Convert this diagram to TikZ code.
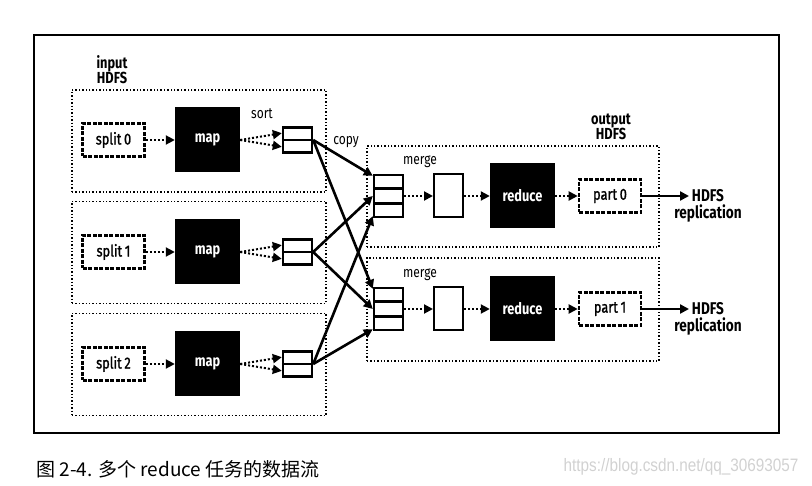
\documentclass[tikz,border=0pt]{standalone}
\usepackage{fontspec}
\setmainfont{Fira Sans}[FakeStretch=0.8]
\newfontfamily\medfont{Fira Sans}[FakeStretch=0.8, FakeBold=1.2]
\newfontfamily\cjk{Noto Sans CJK SC}
\newfontfamily\wmfont{Liberation Sans}[FakeStretch=0.85]
\usetikzlibrary{arrows.meta,calc}
\begin{document}
\begin{tikzpicture}[x=1pt,y=-1pt,
  txt/.style={font=\fontsize{15}{16}\selectfont},
  bold/.style={font=\fontsize{16}{15}\selectfont\bfseries, align=center},
  grp/.style={draw, dotted, line width=1.4pt, rectangle, inner sep=0pt},
  filebox/.style={draw, dash pattern=on 4pt off 1.5pt, line width=2.6pt, fill=white, minimum width=62pt, minimum height=33pt, inner sep=0pt, font=\fontsize{16}{16}\selectfont\medfont},
  task/.style={fill=black, text=white, minimum width=65pt, minimum height=65pt, inner sep=0pt, font=\fontsize{16}{16}\selectfont\bfseries},
  buf/.style={draw, line width=2.4pt, fill=white, minimum width=29pt, inner sep=0pt},
  tip/.style={-{Triangle[length=9pt,width=9pt]}},
  flow/.style={tip, dotted, line width=2pt},
  copyarr/.style={tip, line width=2.6pt},
]
\useasboundingbox (0,0) rectangle (812,486);
\node[draw, line width=1.3pt, minimum width=745pt, minimum height=398pt, inner sep=0pt] (frame) at (406.5,234) {};

% input groups
\foreach \i/\y in {0/141,1/252.5,2/364.5}{
  \node[grp, minimum width=254pt, minimum height=102pt] (in\i) at (199,\y) {};
}
\node[bold] (inlab) at (112,70) {input\\HDFS};

% output groups
\node[grp, minimum width=292pt, minimum height=101pt] (out0) at (513,196.5) {};
\node[grp, minimum width=292pt, minimum height=103pt] (out1) at (513,309.5) {};
\node[bold] (outlab) at (611,127) {output\\HDFS};

% map side
\foreach \i/\y in {0/140,1/252,2/364}{
  \node[filebox] (split\i) at (113.5,\y) {split\,\i};
  \node[task] (map\i) at (207.5,\y) {map};
  \node[buf, minimum height=25pt] (sb\i) at (297.5,\y) {};
  \draw[line width=2.4pt] (sb\i.west) -- (sb\i.east);
  \draw[flow] (split\i) -- (map\i);
  \draw[flow] (map\i.east) -- ($(sb\i.north west)!0.25!(sb\i.south west)$);
  \draw[flow] (map\i.east) -- ($(sb\i.north west)!0.75!(sb\i.south west)$);
}
\node[txt] (sortlab) at (262,114) {sort};
\node[txt] (copylab) at (346,142) {copy};

% reduce side
\foreach \j/\y in {0/196,1/309}{
  \node[buf, minimum height=42pt] (mb\j) at (388.5,\y) {};
  \draw[line width=2.4pt] ($(mb\j.north west)!1/3!(mb\j.south west)$) -- ($(mb\j.north east)!1/3!(mb\j.south east)$);
  \draw[line width=2.4pt] ($(mb\j.north west)!2/3!(mb\j.south west)$) -- ($(mb\j.north east)!2/3!(mb\j.south east)$);
  \node[draw, line width=2pt, fill=white, minimum width=29pt, minimum height=43pt, inner sep=0pt] (mg\j) at (448.5,\y) {};
  \node[task] (red\j) at (522.5,\y) {reduce};
  \node[filebox] (part\j) at (610,\y) {part\,\j};
  \node[txt] (mlab\j) at (420,\y-34) {merge};
  \draw[flow] (mb\j) -- (mg\j);
  \draw[flow] (mg\j) -- (red\j);
  \draw[flow] (red\j) -- (part\j);
  \coordinate (rep\j) at (689,\y);
  \draw[copyarr] (part\j.east) -- (rep\j);
  \node[bold, font=\fontsize{17}{17}\selectfont\bfseries] (hr\j) at (708,\y+10) {HDFS\\replication};
}

% copy arrows
\foreach \j in {0,1}{
  \draw[copyarr] (sb0.east) -- ($(mb\j.north west)+(0,2)$);
  \draw[copyarr] (sb1.east) -- (mb\j.west);
  \draw[copyarr] (sb2.east) -- ($(mb\j.south west)+(0,-2)$);
}

% caption
\node[anchor=west, font=\fontsize{19}{20}\selectfont\cjk] (cap) at (33,469) {图 2-4. 多个 reduce 任务的数据流};
\node[anchor=east, text=black!18, font=\fontsize{18}{18}\selectfont\wmfont] (wm) at (802,467) {https://blog.csdn.net/qq\_30693057};
\end{tikzpicture}
\end{document}
